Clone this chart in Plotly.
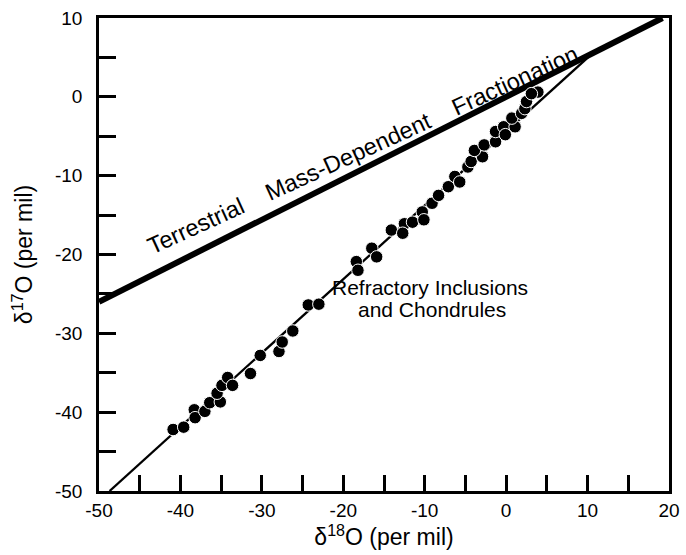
import plotly.graph_objects as go

# Data
d18O = [-40.9, -39.6, -38.3, -38.2, -37.0, -36.4, -35.1, -35.5, -34.9, -34.2, -33.6,
        -31.4, -30.2, -27.9, -27.5, -26.2, -24.3, -23.0,
        -18.4, -18.2, -16.5, -15.9, -14.1, -12.5, -12.7, -11.5, -10.3, -10.1, -9.1,
        -8.3, -7.1, -6.3, -5.7, -4.7, -4.3, -2.9, -3.9, -2.7, -1.3, -1.3, -0.3,
        -0.1, 1.1, 0.7, 1.9, 2.3, 2.5, 3.9, 3.1]
d17O = [-42.2, -41.9, -39.7, -40.7, -39.9, -38.8, -38.7, -37.6, -36.6, -35.6, -36.6,
        -35.1, -32.8, -32.3, -31.1, -29.7, -26.4, -26.3,
        -20.9, -22.0, -19.2, -20.3, -16.9, -16.1, -17.3, -15.9, -14.6, -15.6, -13.5,
        -12.5, -11.4, -10.1, -10.8, -8.9, -8.2, -7.6, -6.8, -6.1, -5.7, -4.4, -3.8,
        -4.8, -3.8, -2.7, -2.1, -1.5, -0.6, 0.6, 0.4]

# Reference lines (end points)
tf_x = [-50, 19.2]
tf_y = [-26, 10]
cai_x = [-48.7, 10.8]
cai_y = [-50, 5.7]

x_ticks = list(range(-50, 25, 5))
y_ticks = list(range(-50, 15, 5))
x_labels = [str(v) if v % 10 == 0 else "" for v in x_ticks]
y_labels = [str(v) if v % 10 == 0 else "" for v in y_ticks]

FONT = "Liberation Sans, Arial, Helvetica, sans-serif"

fig = go.Figure()
fig.add_trace(go.Scatter(x=tf_x, y=tf_y, mode="lines",
                         line=dict(color="black", width=6), hoverinfo="skip"))
fig.add_trace(go.Scatter(x=cai_x, y=cai_y, mode="lines",
                         line=dict(color="black", width=2.3), hoverinfo="skip"))
fig.add_trace(go.Scatter(x=d18O, y=d17O, mode="markers",
                         marker=dict(color="black", size=12.5,
                                     line=dict(color="white", width=1))))

fig.add_annotation(x=-17.6, y=-6.8, xref="x", yref="y",
                   text="Terrestrial&nbsp;&nbsp;&nbsp;&nbsp;Mass-Dependent&nbsp;&nbsp;&nbsp;&nbsp;Fractionation",
                   textangle=-24.5, showarrow=False,
                   font=dict(family=FONT, size=23.5, color="black"))
fig.add_annotation(x=-9.4, y=-24.2, xref="x", yref="y",
                   text="Refractory Inclusions",
                   showarrow=False, align="center",
                   font=dict(family=FONT, size=21, color="black"))
fig.add_annotation(x=-9.1, y=-27.0, xref="x", yref="y",
                   text="and Chondrules",
                   showarrow=False, align="center",
                   font=dict(family=FONT, size=21, color="black"))

fig.update_layout(
    width=686, height=555,
    margin=dict(l=99, r=6, t=18, b=64),
    paper_bgcolor="white", plot_bgcolor="white",
    showlegend=False,
    font=dict(family=FONT, size=19, color="black"),
)
fig.update_xaxes(range=[-50, 20], tickvals=x_ticks, ticktext=x_labels,
                 ticks="inside", ticklen=16, tickwidth=2.5, tickcolor="black",
                 showline=True, linecolor="black", linewidth=2.5, mirror=True,
                 showgrid=False, zeroline=False, ticklabeloverflow="allow",
                 title=dict(text="δ<sup>18</sup>O (per mil)", font=dict(size=23), standoff=10),
                 tickfont=dict(size=19))
fig.update_yaxes(range=[-50, 10], tickvals=y_ticks, ticktext=y_labels,
                 ticks="inside", ticklen=17, tickwidth=2.5, tickcolor="black",
                 showline=True, linecolor="black", linewidth=2.5, mirror=True,
                 showgrid=False, zeroline=False, ticklabelstandoff=10,
                 title=dict(text="δ<sup>17</sup>O (per mil)", font=dict(size=23), standoff=16),
                 tickfont=dict(size=19))

fig.write_html("out.html")
